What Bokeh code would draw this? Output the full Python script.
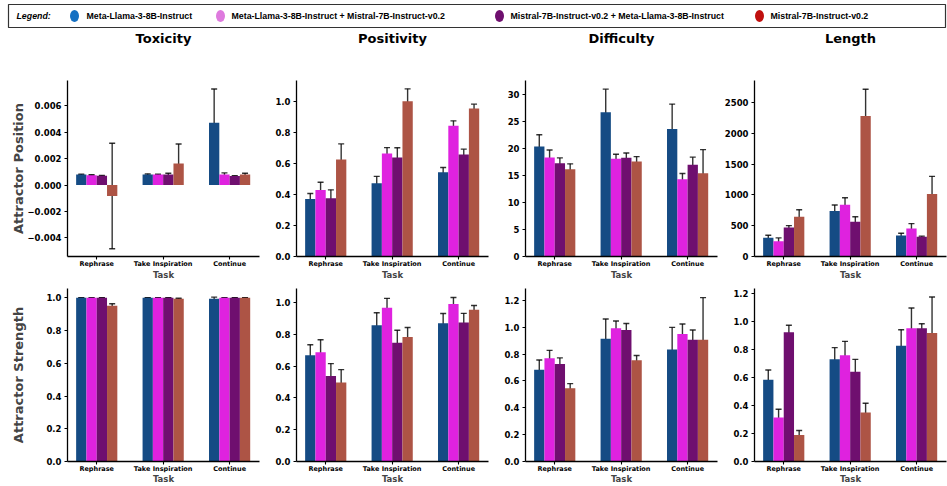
import numpy as np
from bokeh.plotting import figure
from bokeh.models import Range1d, FixedTicker, Whisker, TeeHead, ColumnDataSource
from bokeh.layouts import column, row
from bokeh.embed import file_html
from bokeh.resources import INLINE
from bokeh.core.properties import value

tasks = ["Rephrase", "Take Inspiration", "Continue"]
models = ["Meta-Llama-3-8B-Instruct",
          "Meta-Llama-3-8B-Instruct  + Mistral-7B-Instruct-v0.2",
          "Mistral-7B-Instruct-v0.2  + Meta-Llama-3-8B-Instruct",
          "Mistral-7B-Instruct-v0.2"]
metrics = ["Toxicity", "Positivity", "Difficulty", "Length"]
row_labels = ["Attractor Position", "Attractor Strength"]

# each list: one row per model, one value per task
toxicity_position = [[0.00080, 0.00080, 0.00473], [0.00075, 0.00080, 0.00080],
                     [0.00070, 0.00080, 0.00068], [-0.00083, 0.00163, 0.00080]]
toxicity_position_err = [[0.00003, 0.00005, 0.00256], [0.00003, 0.00003, 0.00012],
                         [0.00003, 0.00010, 0.00003], [0.00400, 0.00148, 0.00010]]
positivity_position = [[0.372, 0.474, 0.545], [0.430, 0.666, 0.845],
                       [0.377, 0.640, 0.660], [0.628, 1.004, 0.957]]
positivity_position_err = [[0.035, 0.044, 0.030], [0.050, 0.038, 0.032],
                           [0.054, 0.063, 0.034], [0.100, 0.080, 0.028]]
difficulty_position = [[20.37, 26.7, 23.6], [18.35, 18.1, 14.33],
                       [17.26, 18.3, 17.0], [16.16, 17.6, 15.43]]
difficulty_position_err = [[2.17, 4.3, 4.63], [1.37, 0.85, 1.04],
                           [1.0, 0.87, 1.4], [1.0, 0.9, 4.36]]
length_position = [[304, 737, 342], [246, 839, 454], [470, 566, 320], [646, 2281, 1015]]
length_position_err = [[40, 99, 35], [56, 115, 80], [32, 80, 10], [112, 433, 286]]

toxicity_strength = [[1.0, 1.0, 0.994], [1.0, 1.0, 1.0], [1.0, 1.0, 1.0], [0.951, 0.994, 1.0]]
toxicity_strength_err = [[0.001, 0.001, 0.010], [0.001, 0.001, 0.001],
                         [0.001, 0.001, 0.001], [0.013, 0.003, 0.001]]
positivity_strength = [[0.667, 0.856, 0.868], [0.686, 0.966, 0.990],
                       [0.537, 0.746, 0.874], [0.497, 0.783, 0.953]]
positivity_strength_err = [[0.067, 0.079, 0.062], [0.079, 0.059, 0.040],
                           [0.078, 0.079, 0.057], [0.080, 0.059, 0.027]]
difficulty_strength = [[0.683, 0.914, 0.835], [0.770, 0.993, 0.950],
                       [0.726, 0.979, 0.907], [0.546, 0.755, 0.907]]
difficulty_strength_err = [[0.073, 0.148, 0.164], [0.058, 0.054, 0.075],
                           [0.046, 0.049, 0.073], [0.034, 0.035, 0.314]]
length_strength = [[0.584, 0.732, 0.828], [0.314, 0.759, 0.953],
                   [0.925, 0.642, 0.953], [0.189, 0.351, 0.918]]
length_strength_err = [[0.070, 0.082, 0.114], [0.060, 0.100, 0.145],
                       [0.049, 0.088, 0.032], [0.033, 0.066, 0.258]]

# tick labels
ticks_toxicity_position = [-0.004, -0.002, 0.0, 0.002, 0.004, 0.006]
ticks_positivity_position = [0.0, 0.2, 0.4, 0.6, 0.8, 1.0]
ticks_difficulty_position = [0, 5, 10, 15, 20, 25, 30]
ticks_length_position = [0, 500, 1000, 1500, 2000, 2500]
ticks_unit = [0.0, 0.2, 0.4, 0.6, 0.8, 1.0]
ticks_unit12 = [0.0, 0.2, 0.4, 0.6, 0.8, 1.0, 1.2]

bar_colors = ["#154b84", "#df22df", "#6f0f6f", "#ad5445"]
legend_colors = ["#1570c2", "#de7ade", "#6e0f6e", "#c0100f"]

FONT = "DejaVu Sans"
BAR_W = 0.155
OFFSETS = [-1.5, -0.5, 0.5, 1.5]

panels = [
    [(toxicity_position, toxicity_position_err, (-0.00542, 0.00793), ticks_toxicity_position, "%.3f"),
     (positivity_position, positivity_position_err, (0, 1.138), ticks_positivity_position, "%.1f"),
     (difficulty_position, difficulty_position_err, (0, 32.6), ticks_difficulty_position, "%d"),
     (length_position, length_position_err, (0, 2857), ticks_length_position, "%d")],
    [(toxicity_strength, toxicity_strength_err, (0, 1.057), ticks_unit, "%.1f"),
     (positivity_strength, positivity_strength_err, (0, 1.087), ticks_unit, "%.1f"),
     (difficulty_strength, difficulty_strength_err, (0, 1.289), ticks_unit12, "%.1f"),
     (length_strength, length_strength_err, (0, 1.237), ticks_unit12, "%.1f")],
]

FRAME_W = 192
row_specs = [dict(top=20, frame_h=178, bottom=24, xlab_standoff=-1),
             dict(top=6, frame_h=179, bottom=19, xlab_standoff=-2)]
col_borders = [(67, 3), (34, 3), (34, 3), (34, 1)]
HEADER_H = 60


def make_panel(r, c):
    data, err, yr, ticks, fmt = panels[r][c]
    spec = row_specs[r]
    bl, br = col_borders[c]
    p = figure(width=bl + FRAME_W + br, height=spec["top"] + spec["frame_h"] + spec["bottom"],
               x_range=Range1d(-0.44, 2.45), y_range=Range1d(*yr),
               toolbar_location=None, output_backend="svg",
               min_border_left=bl, min_border_right=br,
               min_border_top=spec["top"], min_border_bottom=spec["bottom"])
    p.outline_line_color = None
    p.xgrid.visible = False
    p.ygrid.visible = False

    idx = np.arange(len(tasks))
    for m in range(len(models)):
        x = idx + OFFSETS[m] * BAR_W
        vals = np.array(data[m], dtype=float)
        e = np.array(err[m], dtype=float)
        src = ColumnDataSource(dict(x=x, top=vals, upper=vals + e, lower=vals - e))
        p.vbar(x="x", top="top", bottom=0, width=BAR_W, source=src,
               fill_color=bar_colors[m], line_color=None)
        wk = Whisker(base="x", upper="upper", lower="lower", source=src,
                     line_color="black", line_alpha=0.8, line_width=1.4,
                     upper_head=TeeHead(size=6, line_color="black", line_alpha=0.8, line_width=1.4),
                     lower_head=TeeHead(size=6, line_color="black", line_alpha=0.8, line_width=1.4))
        p.add_layout(wk)

    xa = p.xaxis[0]
    xa.ticker = FixedTicker(ticks=list(range(len(tasks))))
    xa.major_label_overrides = {i: t for i, t in enumerate(tasks)}
    xa.axis_label = "Task"
    xa.axis_label_text_font = FONT
    xa.axis_label_text_font_size = "8.5px"
    xa.axis_label_text_font_style = "bold"
    xa.axis_label_standoff = spec["xlab_standoff"]
    xa.major_label_text_font_size = "6.5px"
    xa.major_label_standoff = 0

    ya = p.yaxis[0]
    ya.ticker = FixedTicker(ticks=ticks)
    ya.major_label_overrides = {t: (fmt % t).replace("-", "\u2212") for t in ticks}
    ya.major_label_text_font_size = "8.5px"
    ya.major_label_standoff = 3
    if c == 0:
        ya.axis_label = row_labels[r]
        ya.axis_label_text_font = FONT
        ya.axis_label_text_font_size = "13px"
        ya.axis_label_text_font_style = "bold"
        ya.axis_label_standoff = -2 if r == 0 else 17

    for ax in (xa, ya):
        ax.axis_line_color = "black"
        ax.axis_line_width = 1.3
        ax.major_tick_line_color = "black"
        ax.major_tick_line_width = 1.1
        ax.major_tick_out = 3
        ax.major_tick_in = 0
        ax.minor_tick_line_color = None
        ax.major_label_text_font = FONT
        ax.major_label_text_font_style = "bold"
        ax.major_label_text_color = "black"
    return p


# header strip: legend box and column titles (drawn in pixel-like coordinates)
TOTAL_W = sum(b[0] + FRAME_W + b[1] for b in col_borders)
hdr = figure(width=TOTAL_W, height=HEADER_H, x_range=Range1d(0, TOTAL_W), y_range=Range1d(HEADER_H, 0),
             toolbar_location=None, output_backend="svg", min_border=0,
             x_axis_location=None, y_axis_location=None)
hdr.xgrid.visible = False
hdr.ygrid.visible = False
hdr.outline_line_color = None
hdr.quad(left=[8], right=[945], top=[4], bottom=[27], fill_color=None,
         line_color="#333333", line_width=1.2)
hdr.text(x=[16], y=[15.5], text=["Legend:"], text_font=value("Liberation Sans"),
         text_font_size=value("8.8px"), text_font_style="bold italic", text_baseline="middle")
marker_x = [74, 220, 499, 759]
text_x = [86, 231, 510, 770]
hdr.ellipse(x=marker_x, y=[15.5] * 4, width=9, height=12, width_units="screen",
            height_units="screen", fill_color=legend_colors, line_color=None)
hdr.text(x=text_x, y=[15.5] * 4, text=models, text_font=value("Liberation Sans"),
         text_font_size=value("8.8px"), text_font_style="bold", text_baseline="middle")

# column titles centred over each panel frame
title_x = []
acc = 0
for bl, br in col_borders:
    title_x.append(acc + bl + FRAME_W / 2)
    acc += bl + FRAME_W + br
hdr.text(x=title_x, y=[38] * 4, text=metrics, text_font=value(FONT),
         text_font_size=value("13px"), text_font_style="bold",
         text_align="center", text_baseline="middle")

rows = []
for r in range(2):
    rows.append(row(*[make_panel(r, c) for c in range(4)], spacing=0))

layout = column(hdr, *rows, spacing=0)
open("out.html", "w").write(file_html(layout, INLINE))
